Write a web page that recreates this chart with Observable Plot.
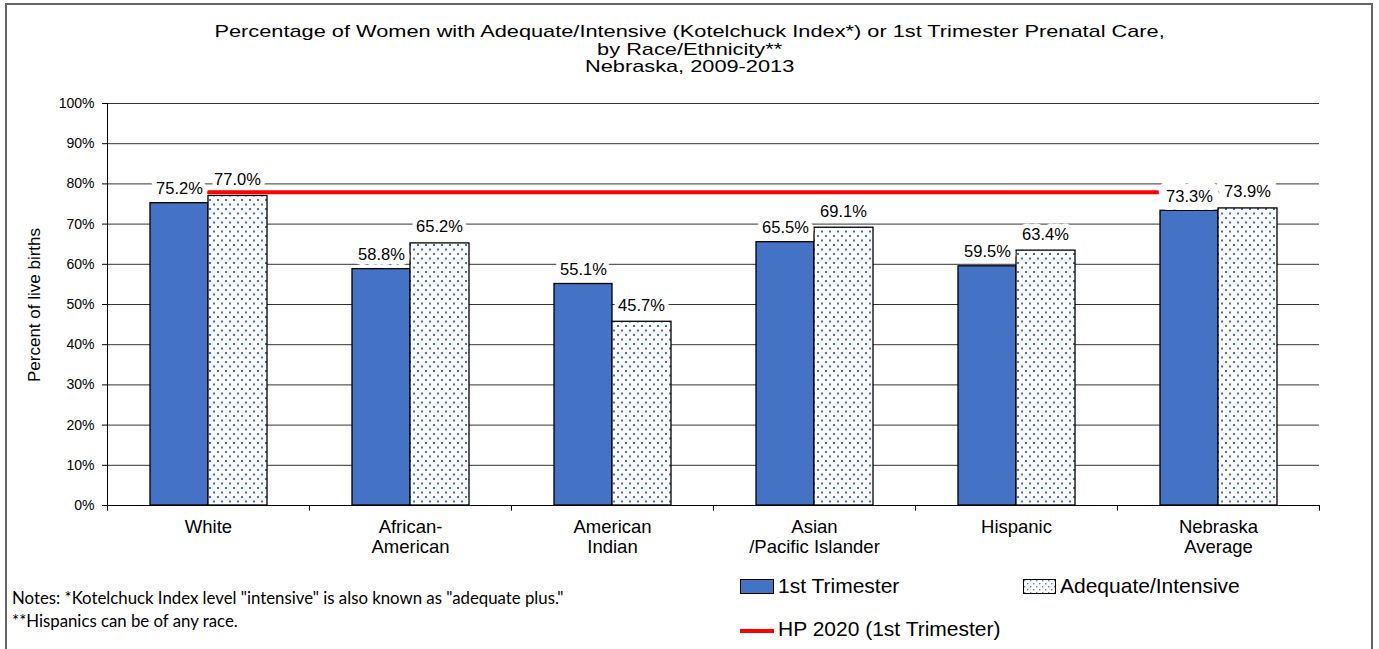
<!DOCTYPE html>
<html>
<head>
<meta charset="utf-8">
<script src="https://cdn.jsdelivr.net/npm/d3@7"></script>
<script src="https://cdn.jsdelivr.net/npm/@observablehq/plot@0.6"></script>
<style>
  html, body { margin: 0; padding: 0; background: #fff; }
  #wrap { position: relative; width: 1379px; height: 649px; overflow: hidden; font-family: "Liberation Sans", Arial, sans-serif; color: #000; }
  #frame { position: absolute; left: 5px; top: 3px; width: 1368px; height: 660px; border: 2px solid #666; box-sizing: border-box; }
  #title { position: absolute; left: 0; width: 1379px; top: 23px; text-align: center; font-size: 17px; line-height: 17.5px; transform: scaleX(1.28); transform-origin: 689px 0; }
  #chart { position: absolute; left: 0; top: 90px; }
  #ytitle { position: absolute; left: 35px; top: 305px; transform: translate(-50%, -50%) rotate(-90deg); white-space: nowrap; font-size: 17px; }
  .leg { position: absolute; font-size: 21px; display: flex; align-items: center; white-space: nowrap; }
  .leg svg { margin-right: 4px; }
  #notes { position: absolute; left: 12px; top: 586px; font-family: Lato, "Open Sans", sans-serif; font-size: 16.8px; line-height: 23px; }
</style>
</head>
<body>
<div id="wrap">
  <div id="frame"></div>
  <div id="title">Percentage of Women with Adequate/Intensive (Kotelchuck Index*) or 1st Trimester Prenatal Care,<br>by Race/Ethnicity**<br>Nebraska, 2009-2013</div>
  <div id="ytitle">Percent of live births</div>
  <div id="chart"></div>
  <div class="leg" style="left:740px; top:574px;"><svg width="34" height="15"><rect x="0.5" y="0.5" width="33" height="14" fill="#4472C4" stroke="#000"/></svg>1st Trimester</div>
  <div class="leg" style="left:1023px; top:574px;"><svg width="33" height="15"><defs><pattern id="ldots" width="6" height="6" patternUnits="userSpaceOnUse"><rect width="6" height="6" fill="#fff"/><rect x="1" y="1" width="1.4" height="1.4" fill="#5b84d0"/><rect x="4" y="4" width="1.4" height="1.4" fill="#5b84d0"/></pattern></defs><rect x="0.5" y="0.5" width="32" height="14" fill="url(#ldots)" stroke="#000"/></svg>Adequate/Intensive</div>
  <div class="leg" style="left:740px; top:617px;"><svg width="34" height="15"><line x1="0" x2="34" y1="9" y2="9" stroke="#ff0000" stroke-width="4"/></svg>HP 2020 (1st Trimester)</div>
  <div id="notes">Notes: *Kotelchuck Index level "intensive" is also known as "adequate plus."<br>**Hispanics can be of any race.</div>
</div>
<script>
const categories = ["White", "African-\nAmerican", "American\nIndian", "Asian\n/Pacific Islander", "Hispanic", "Nebraska\nAverage"];
const firstTrimester = [75.2, 58.8, 55.1, 65.5, 59.5, 73.3];
const adequateIntensive = [77.0, 65.2, 45.7, 69.1, 63.4, 73.9];
const hp2020Target = 77.9;
const yTicks = [0, 10, 20, 30, 40, 50, 60, 70, 80, 90, 100];

const rows = categories.map((c, i) => ({cat: c, first: firstTrimester[i], adeq: adequateIntensive[i], hp: hp2020Target}));
const fmt = d => d.toFixed(1) + "%";
const half = 101;
const lastCat = categories[categories.length - 1];
const isLast = d => d.cat === lastCat;
const notLast = d => d.cat !== lastCat;

const labelOpts = {fontSize: 16.5, fill: "#000", stroke: "#fff", strokeLinejoin: "round", lineAnchor: "bottom"};

const chart = Plot.plot({
  width: 1379,
  height: 470,
  marginTop: 13,
  marginLeft: 107,
  marginRight: 60,
  marginBottom: 55,
  style: {fontFamily: "'Liberation Sans', Arial, sans-serif", color: "#000", background: "transparent"},
  x: {type: "band", domain: categories, padding: 0, axis: null},
  y: {domain: [0, 100], ticks: yTicks, axis: null},
  marks: [
    Plot.gridY(yTicks, {stroke: "#000", strokeOpacity: 0.8}),
    Plot.ruleX(categories, {x: d => d, y1: 0, y2: -1.4, dx: -half, stroke: "#000"}),
    Plot.ruleX(categories.slice(-1), {x: d => d, y1: 0, y2: -1.4, dx: half, stroke: "#000"}),
    Plot.barY(rows, {x: "cat", y: "first", fill: "#4472C4", stroke: "#000", strokeWidth: 1.3, insetLeft: 43, insetRight: 101}),
    Plot.barY(rows, {x: "cat", y: "adeq", fill: "url(#dots)", stroke: "#000", strokeWidth: 1.3, insetLeft: 101, insetRight: 42}),
    Plot.lineY(rows, {x: "cat", y: "hp", stroke: "#ff0000", strokeWidth: 4}),
    Plot.text(rows, {...labelOpts, filter: notLast, x: "cat", y: "first", text: d => fmt(d.first), dx: -29, dy: -9, strokeWidth: 10}),
    Plot.text(rows, {...labelOpts, filter: notLast, x: "cat", y: "adeq", text: d => fmt(d.adeq), dx: 29, dy: -11, strokeWidth: 9}),
    Plot.text(rows, {...labelOpts, filter: isLast, x: "cat", y: "first", text: d => fmt(d.first), dx: -29, dy: -9, strokeWidth: 16}),
    Plot.text(rows, {...labelOpts, filter: isLast, x: "cat", y: "adeq", text: d => fmt(d.adeq), dx: 29, dy: -11, strokeWidth: 16}),
    Plot.ruleY([0], {stroke: "#000"}),
    Plot.frame({anchor: "left", stroke: "#000"}),
    Plot.axisY(yTicks, {tickSize: 5, tickPadding: 8, tickFormat: d => d + "%", fontSize: 14, label: null}),
    Plot.axisX({tickSize: 0, tickPadding: 13, fontSize: 18.5, lineHeight: 1.08, label: null})
  ]
});

const ns = "http://www.w3.org/2000/svg";
const defs = document.createElementNS(ns, "defs");
defs.innerHTML = '<pattern id="dots" width="8" height="9" patternUnits="userSpaceOnUse"><rect width="8" height="9" fill="#fff"/><rect x="1" y="1" width="2" height="2" fill="#4472C4"/><rect x="5" y="5.5" width="2" height="2" fill="#4472C4"/></pattern>';
chart.insertBefore(defs, chart.firstChild);
document.getElementById("chart").appendChild(chart);
</script>
</body>
</html>
